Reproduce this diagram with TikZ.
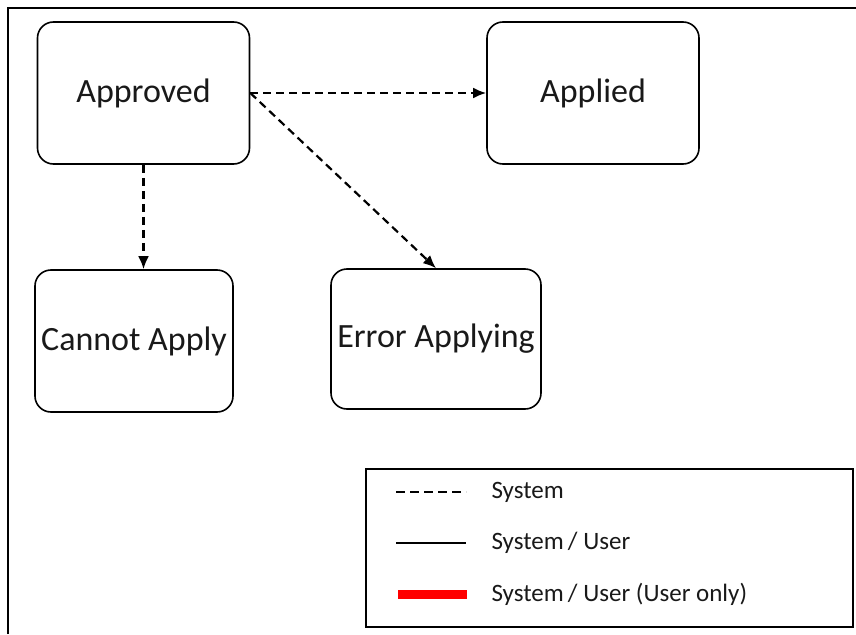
\documentclass[tikz,border=0pt]{standalone}
\usepackage{fontspec}
\setmainfont{Carlito}
\usetikzlibrary{arrows.meta}
\tikzset{
  state/.style={draw, line width=1.6pt, rounded corners=16pt, minimum width=212pt,
    minimum height=142pt, font=\fontsize{34}{40}\selectfont, text=black!90},
  sysarrow/.style={line width=2.2pt, dash pattern=on 8pt off 5pt, -{Latex[length=13pt,width=11pt]}},
  legtext/.style={anchor=west, font=\fontsize{25}{30}\selectfont, text=black!90},
}
\def\drawFrame{
\draw[line width=2.5pt] (8,634) -- (8,8) -- (856,8);
\draw[line width=1.4pt] (366,469) rectangle (853,627);
}

\begin{document}
\begin{tikzpicture}[x=1pt,y=-1pt]
	\useasboundingbox (0,0) rectangle (856,634);
	\drawFrame
	% states
	\node[state] (Approved) at (143.5,93) {Approved};
	\node[state] (Applied) at (593,93) {Applied};
	\node[state, minimum width=198pt] (CannotApply) at (134,341) {Cannot Apply};
	\node[state, minimum width=210pt, minimum height=140pt] (ErrorApplying) at (436,339) {Error Applying};
	% transitions
	\draw[sysarrow] (Approved.east) -- (Applied.west);
	\draw[sysarrow] (Approved.east) -- (ErrorApplying.north);
	\draw[sysarrow] (Approved.south) -- (Approved.south |- CannotApply.north);
	% legend
	\node[legtext] (System) at (488,492) {System};
	\node[legtext] (SystemUser) at (488,543) {System\,/ User};
	\node[legtext] (UserOnly) at (488,594) {System\,/ User (User only)};
	\coordinate (L1) at (396,492);
	\coordinate (L2) at (396,543);
	\coordinate (L3) at (398,594);
	\draw[line width=1.8pt, dash pattern=on 9pt off 5pt] (L1) -- ++(70,0);
	\draw[line width=1.3pt] (L2) -- ++(70,0);
	\draw[line width=9pt, color=red] (L3) -- ++(69,0);
\end{tikzpicture}
\end{document}
